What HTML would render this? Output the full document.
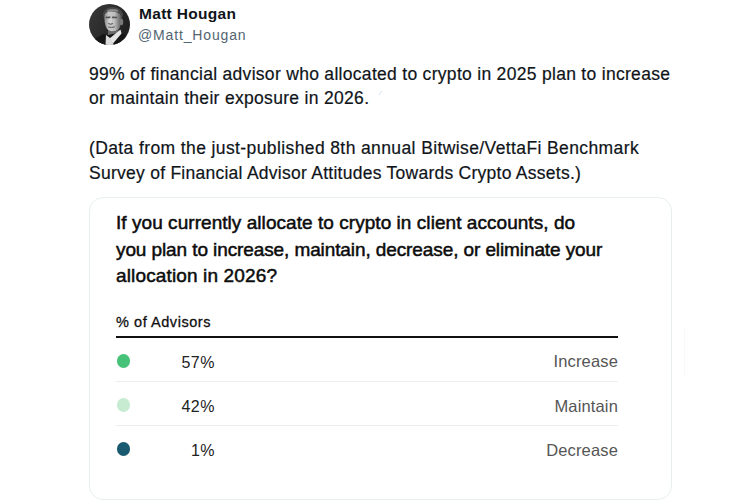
<!DOCTYPE html>
<html><head><meta charset="utf-8">
<style>
html,body{margin:0;padding:0;background:#fff;width:750px;height:500px;overflow:hidden;position:relative;font-family:"Liberation Sans",sans-serif;}
.abs{position:absolute;white-space:nowrap;line-height:1;}
#avatar{position:absolute;left:89px;top:4px;width:41px;height:41px;border-radius:50%;overflow:hidden;}
.nm{font-weight:bold;color:#0f1419;}
.hd{color:#536471;}
.tw{color:#0f1419;-webkit-text-stroke:0.2px #0f1419;}
#card{position:absolute;left:89px;top:197px;width:583px;height:303px;border:1px solid #e9eef1;border-radius:14px;box-sizing:border-box;}
.q{color:#0c0c0c;-webkit-text-stroke:0.5px #0c0c0c;}
.adv{color:#111;-webkit-text-stroke:0.3px #111;}
#thick{position:absolute;left:116px;top:336px;width:502px;height:2px;background:#111;}
.sep{position:absolute;left:116px;width:502px;height:1px;background:#ededed;}
.dot{position:absolute;left:116.5px;width:13.4px;height:13.4px;border-radius:50%;}
.pct{color:#222;}
.lab{color:#555;}
</style></head>
<body>
<div id="avatar">
<svg width="41" height="41" viewBox="0 0 41 41">
<defs>
<linearGradient id="bg" x1="0" y1="0" x2="1" y2="0.6"><stop offset="0" stop-color="#3a3a3a"/><stop offset="0.5" stop-color="#2c2c2c"/><stop offset="1" stop-color="#1f1f1f"/></linearGradient>
<linearGradient id="face" x1="0" y1="0" x2="1" y2="0"><stop offset="0" stop-color="#8a8a8a"/><stop offset="0.25" stop-color="#c8c8c8"/><stop offset="0.6" stop-color="#bdbdbd"/><stop offset="1" stop-color="#5a5a5a"/></linearGradient>
<filter id="bl" x="-10%" y="-10%" width="120%" height="120%"><feGaussianBlur stdDeviation="0.6"/></filter>
</defs>
<rect width="41" height="41" fill="url(#bg)"/>
<g filter="url(#bl)">
<path d="M14 10 Q16 3 24 3 Q32 3.5 34 10 L33 15 L15 15 Z" fill="#4a4a4a"/>
<path d="M18 6.5 Q23 4 29 6 L28.5 8 Q23 6.5 18.5 8.5 Z" fill="#8a8a8a"/>
<path d="M15.5 12 Q16 7.5 22 7.5 Q30 7.5 32 12 Q33 20 30 25 Q26 28.5 21 27.5 Q16.5 25 15.5 17 Z" fill="url(#face)"/>
<path d="M16.5 12.8 L21.5 12.6 L21.3 14.2 L16.8 14.2 Z" fill="#505050"/>
<path d="M23 12.6 L28.3 12.8 L28 14.3 L23.2 14.2 Z" fill="#505050"/>
<path d="M20 14.5 L23 14.5 L23.5 19.3 L19.5 19.5 Z" fill="#d0d0d0"/>
<path d="M19.3 19.5 Q21.5 21 23.8 19.5" stroke="#4a4a4a" stroke-width="1" fill="none"/>
<path d="M19 23 Q22.5 24 26 22.8" stroke="#5a5a5a" stroke-width="1" fill="none"/>
<ellipse cx="32.5" cy="18" rx="1.7" ry="3.3" fill="#7a7a7a"/>
<path d="M19 26 Q24 29 29.5 25.5 L29.5 31 L19 31 Z" fill="#6a6a6a"/>
<path d="M0 41 L4 36 L14 30 L19 31 L29 29 L36 30 L41 38 L41 41 Z" fill="#161616"/>
<path d="M16.5 41 L17 31 L21 34 L25 41 Z" fill="#dcdcdc"/>
<path d="M20.5 34.5 L31.5 25.5 L32.5 29.5 L24 39.5 Z" fill="#e6e6e6"/>
</g>
</svg>
</div>
<div class="abs nm" id="name" style="left:139px;top:5.8px;font-size:15.5px;letter-spacing:0.3px;">Matt Hougan</div>
<div class="abs hd" id="handle" style="left:138px;top:27.6px;font-size:14px;letter-spacing:0.85px;">@Matt_Hougan</div>
<div class="abs tw" id="L1" style="left:89px;top:65.6px;font-size:17.5px;letter-spacing:0.3px;">99% of financial advisor who allocated to crypto in 2025 plan to increase</div>
<div class="abs tw" id="L2" style="left:89px;top:89.6px;font-size:17.5px;letter-spacing:0.31px;">or maintain their exposure in 2026.</div>
<div class="abs tw" id="L4" style="left:89px;top:139.6px;font-size:17.5px;letter-spacing:0.39px;">(Data from the just-published 8th annual Bitwise/VettaFi Benchmark</div>
<div class="abs tw" id="L5" style="left:89px;top:164.6px;font-size:17.5px;letter-spacing:0.26px;">Survey of Financial Advisor Attitudes Towards Crypto Assets.)</div>
<svg style="position:absolute;left:376px;top:89px" width="8" height="8"><line x1="3" y1="6" x2="6" y2="2" stroke="#cfe0f4" stroke-width="1"/></svg>
<div id="card"></div>
<div style="position:absolute;left:684px;top:328px;width:1px;height:48px;background:#f8f8f8"></div>
<div class="abs q" id="Q1" style="left:116px;top:213px;font-size:19px;letter-spacing:0.05px;">If you currently allocate to crypto in client accounts, do</div>
<div class="abs q" id="Q2" style="left:116px;top:240px;font-size:19px;letter-spacing:-0.1px;">you plan to increase, maintain, decrease, or eliminate your</div>
<div class="abs q" id="Q3" style="left:116px;top:266px;font-size:19px;letter-spacing:0.14px;">allocation in 2026?</div>
<div class="abs adv" id="adv" style="left:116px;top:314.7px;font-size:14.5px;letter-spacing:0.55px;">% of Advisors</div>
<div id="thick"></div>
<div class="dot" style="top:354.4px;background:#47c279"></div>
<div class="sep" style="top:381px"></div>
<div class="dot" style="top:398.3px;background:#c6ebd1"></div>
<div class="sep" style="top:425px"></div>
<div class="dot" style="top:442.3px;background:#195a70"></div>
<div class="abs pct" id="pct1" style="right:535px;top:354.7px;font-size:16px;letter-spacing:0.5px;">57%</div>
<div class="abs pct" id="pct2" style="right:535px;top:398.7px;font-size:16px;letter-spacing:0.5px;">42%</div>
<div class="abs pct" id="pct3" style="right:535px;top:442.7px;font-size:16px;letter-spacing:0.5px;">1%</div>
<div class="abs lab" id="lab1" style="right:132px;top:353.4px;font-size:16.5px;letter-spacing:0.15px;">Increase</div>
<div class="abs lab" id="lab2" style="right:132px;top:398.4px;font-size:16.5px;letter-spacing:0.15px;">Maintain</div>
<div class="abs lab" id="lab3" style="right:132px;top:442.4px;font-size:16.5px;letter-spacing:0.15px;">Decrease</div>
</body></html>
